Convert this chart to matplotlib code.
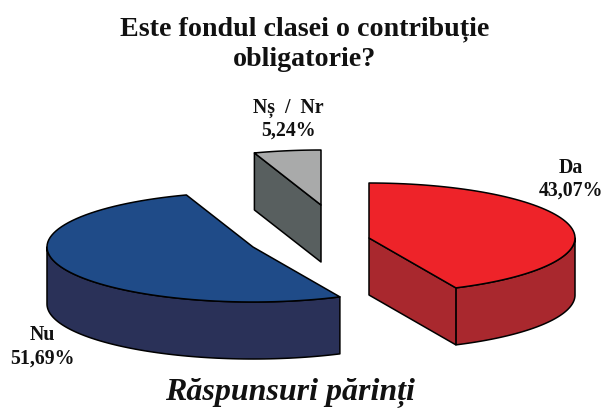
import numpy as np
import matplotlib
matplotlib.use("Agg")
import matplotlib.pyplot as plt
from matplotlib.patches import Polygon

plt.rcParams["font.family"] = ["Liberation Serif", "DejaVu Serif"]

# ── Data ─────────────────────────────────────────────────────────────
labels = ["Da", "Nu", "Nș  /  Nr"]
values = [43.07, 51.69, 5.24]
value_labels = ["43,07%", "51,69%", "5,24%"]
title = "Este fondul clasei o contribuție\nobligatorie?"
caption = "Răspunsuri părinți"

# ── Style (pixels of the 603x412 picture) ────────────────────────────
top_colors = ["#ee2329", "#1f4b88", "#a9aaaa"]
side_colors = ["#a9282e", "#2a3158", "#585f5f"]
centers = [(369, 238), (253, 247), (321, 205)]
RX, RY, DEPTH = 206, 55, 57
label_pos = [(571, 179), (42, 347), (288, 119)]


def rim(c, a0, a1, drop=0, n=80):
    """Ellipse arc, angles clockwise from 12 o'clock in degrees."""
    t = np.radians(np.linspace(a0, a1, n))
    return np.column_stack([c[0] + RX * np.sin(t), c[1] - RY * np.cos(t) + drop])


fig = plt.figure(figsize=(6.03, 4.12), dpi=100)
ax = fig.add_axes([0, 0, 1, 1])
ax.set_xlim(0, 603)
ax.set_ylim(412, 0)
ax.axis("off")

edges = np.cumsum([0] + values) * 3.6
edge_kw = dict(edgecolor="black", linewidth=1.1, joinstyle="round")

for i in [1, 2, 0]:
    a0, a1 = edges[i], edges[i + 1]
    c = centers[i]

    # outer wall, only the part on the front of the ellipse
    w0, w1 = max(a0, 90), min(a1, 270)
    if w1 > w0:
        wall = np.vstack([rim(c, w0, w1), rim(c, w0, w1, DEPTH)[::-1]])
        ax.add_patch(Polygon(wall, facecolor=side_colors[i], **edge_kw))

    # cut faces that look toward the viewer
    for a in (a0, a1):
        p = rim(c, a, a, n=1)[0]
        if (a == a1 and 0 < a < 180) or (a == a0 and 180 < a < 360):
            face = [c, p, (p[0], p[1] + DEPTH), (c[0], c[1] + DEPTH)]
            ax.add_patch(Polygon(face, facecolor=side_colors[i], **edge_kw))

    top = np.vstack([[c], rim(c, a0, a1)])
    ax.add_patch(Polygon(top, facecolor=top_colors[i], **edge_kw))

    ax.text(label_pos[i][0], label_pos[i][1], f"{labels[i]}\n{value_labels[i]}",
            ha="center", va="center", fontsize=14.3, fontweight="bold",
            linespacing=1.2, color="#111111")

ax.text(305, 44, title, ha="center", va="center", fontsize=20.2,
        fontweight="bold", linespacing=1.25, color="#111111")
ax.text(290, 393, caption, ha="center", va="center", fontsize=23,
        fontweight="bold", fontstyle="italic", color="#111111")

fig.savefig("out.png", dpi=100)
